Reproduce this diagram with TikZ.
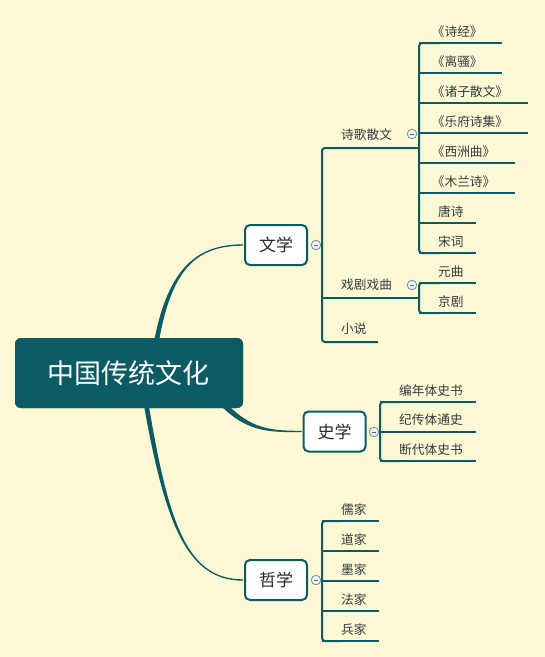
\documentclass[tikz,border=0pt]{standalone}
\usepackage{fontspec}
\setmainfont{Noto Sans CJK SC}[RawFeature={+halt}]
\usepackage{tikz}
\usetikzlibrary{calc}
\definecolor{paper}{RGB}{254,248,212}
\definecolor{mainline}{RGB}{11,91,101}
\definecolor{boxtext}{RGB}{40,40,40}
\definecolor{leaftext}{RGB}{48,60,64}
\definecolor{foldline}{RGB}{115,145,160}
\definecolor{foldfill}{RGB}{236,241,246}
\tikzset{
  root/.style={
    rounded corners=6pt,
    fill=mainline,
    text=white,
    minimum width=228pt,
    minimum height=70pt,
    font=\fontsize{27}{31}\selectfont
  },
  topic/.style={
    rounded corners=5pt,
    draw=mainline,
    line width=2pt,
    fill=white,
    text=boxtext,
    minimum width=62pt,
    minimum height=40pt,
    font=\fontsize{17}{20}\selectfont
  },
  leaf/.style={
    anchor=base west,
    yshift=7pt,
    inner sep=0pt,
    text=leaftext,
    font=\fontsize{12.7}{15}\selectfont
  },
  branch/.style={
    leaf,
    yshift=2pt
  },
  bar/.style={
    draw=mainline,
    line width=2pt
  },
  bracket/.style={
    bar,
    rounded corners=3pt
  },
  fold/.style={
    circle,
    draw=foldline,
    fill=foldfill,
    line width=0.8pt,
    minimum size=9.5pt,
    inner sep=0pt,
    path picture={
      \draw[foldline!70!black, line width=0.7pt]
        ([xshift=-2.3pt]path picture bounding box.center) --
        ([xshift=2.3pt]path picture bounding box.center);
    }
  }
}

\begin{document}
\begin{tikzpicture}[x=1pt, y=-1pt]
    % 背景
    \fill[paper] (0,0) rectangle (545,657);
    \useasboundingbox (0,0) rectangle (545,657);

    % 中心主题与三个分支主题
    \node[root] (root) at (129,373) {中国传统文化};
    \node[topic] (wenxue) at (276,245) {文学};
    \node[topic] (shixue) at (334.5,431.5) {史学};
    \node[topic] (zhexue) at (276,580) {哲学};

    % 主干曲线 (由粗到细)
    \fill[mainline] ($(root.north)+(23.5,12)$) .. controls (166,270) and (195,244.3) ..
      ($(wenxue.west)+(-1,-0.7)$) -- ($(wenxue.west)+(-1,0.7)$)
      .. controls (195,245.7) and (170,270) .. ($(root.north)+(28.5,12)$) -- cycle;
    \fill[mainline] ($(root.south)+(11.5,-23)$) .. controls (163,520) and (185,580.7) ..
      ($(zhexue.west)+(-1,0.7)$) -- ($(zhexue.west)+(-1,-0.7)$)
      .. controls (185,579.3) and (167,520) .. ($(root.south)+(16.5,-23)$) -- cycle;
    \fill[mainline] ($(root.south)+(84,-11)$) .. controls (243,432) and (265,432.2) ..
      ($(shixue.west)+(-1,0.7)$) -- ($(shixue.west)+(-1,-0.7)$)
      .. controls (265,430.8) and (247,428) .. ($(root.south)+(88,-15)$) -- cycle;
    % 重画中心主题, 盖住曲线起点
    \node[root] at (root) {中国传统文化};

    % 文学
    \node[fold] (f-wenxue) at (316,245) {};
    \draw[bracket] (419,148) -- (322,148) -- (322,342) -- (378,342);
    \draw[bar] (322,298) -- (419,298);
    \node[branch] (shige) at (341,148) {诗歌散文};
    \node[branch] (xiju) at (341,298) {戏剧戏曲};
    \node[branch] (xiaoshuo) at (341,342) {小说};
    \node[fold] (f-shige) at (412,134) {};
    \node[fold] (f-xiju) at (412,285) {};

    % 诗歌散文
    \foreach \name/\len [count=\i] in {《诗经》/83, 《离骚》/83, 《诸子散文》/109,
        《乐府诗集》/109, 《西洲曲》/96, 《木兰诗》/96, 唐诗/57, 宋词/57}{
      \pgfmathsetmacro\y{13+30*\i}
      \draw[bar] (419,\y) -- ++(\len,0);
      \node[leaf] (sg-\i) at (438,\y) {\name};
    }
    \draw[bracket] (440,43) -- (419,43) -- (419,253) -- (440,253);

    % 戏剧戏曲
    \foreach \name [count=\i] in {元曲, 京剧}{
      \pgfmathsetmacro\y{253+30*\i}
      \draw[bar] (419,\y) -- ++(57,0);
      \node[leaf] (xj-\i) at (438,\y) {\name};
    }
    \draw[bracket] (440,283) -- (419,283) -- (419,313) -- (440,313);

    % 史学
    \node[fold] (f-shixue) at (374,432) {};
    \foreach \name [count=\i] in {编年体史书, 纪传体通史, 断代体史书}{
      \pgfmathsetmacro\y{372.5+29.5*\i}
      \draw[bar] (380,\y) -- ++(96,0);
      \node[leaf] (sx-\i) at (399,\y) {\name};
    }
    \draw[bracket] (400,402) -- (380,402) -- (380,461) -- (400,461);

    % 哲学
    \node[fold] (f-zhexue) at (316,580) {};
    \foreach \name [count=\i] in {儒家, 道家, 墨家, 法家, 兵家}{
      \pgfmathsetmacro\y{491+30*\i}
      \draw[bar] (322,\y) -- ++(57,0);
      \node[leaf] (zx-\i) at (341,\y) {\name};
    }
    \draw[bracket] (342,521) -- (322,521) -- (322,641) -- (342,641);
\end{tikzpicture}
\end{document}
